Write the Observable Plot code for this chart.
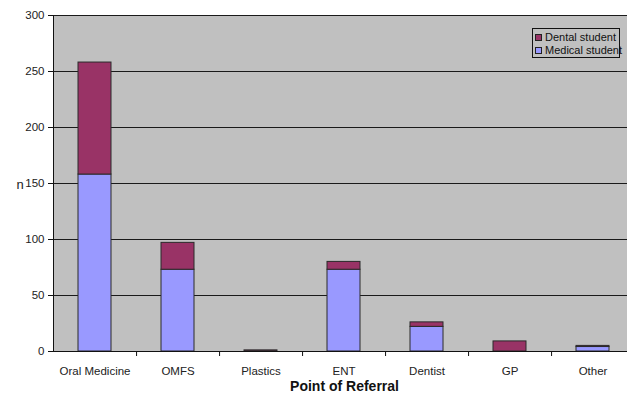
<!DOCTYPE html>
<html>
<head>
<meta charset="utf-8">
<script src="https://cdn.jsdelivr.net/npm/d3@7"></script>
<script src="https://cdn.jsdelivr.net/npm/@observablehq/plot@0.6"></script>
<style>
  body { margin: 0; background: #fff; font-family: "Liberation Sans", Arial, sans-serif; }
  #wrap { position: relative; width: 627px; height: 396px; overflow: hidden; }
  #legend {
    position: absolute; left: 532px; top: 28px; width: 86px; height: 28px;
    border: 1px solid #111; background: #c0c0c0; font-size: 11px; color: #111;
  }
  #legend .row { position: absolute; left: 2px; display: flex; align-items: center; white-space: nowrap; }
  #legend .sw { width: 5px; height: 5px; border: 1px solid #222; margin-right: 3px; }
</style>
</head>
<body>
<div id="wrap"></div>
<script>
// Referrals by source, split by student group
const categories = ["Oral Medicine", "OMFS", "Plastics", "ENT", "Dentist", "GP", "Other"];
const medical = [158, 73, 0, 73, 22, 0, 4];
const dental = [100, 24, 1, 7, 4, 9, 1];
const seriesNames = ["Medical student", "Dental student"];
const seriesColors = ["#9999ff", "#993366"];
const yTicks = [0, 50, 100, 150, 200, 250, 300];

const rows = [];
categories.forEach((c, i) => {
  rows.push({cat: c, series: seriesNames[0], value: medical[i]});
  rows.push({cat: c, series: seriesNames[1], value: dental[i]});
});

const W = 627, H = 396;
const xRange = [53, 635];
const step = (xRange[1] - xRange[0]) / categories.length;

const chart = Plot.plot({
  width: W,
  height: H,
  marginLeft: 53,
  marginRight: 0,
  marginTop: 15,
  marginBottom: 45,
  style: {fontFamily: "Liberation Sans, Arial, sans-serif", fontSize: "11.5px", color: "#222", background: "#fff"},
  x: {type: "band", domain: categories, range: xRange, paddingInner: 0.6, paddingOuter: 0.3, label: null},
  y: {domain: [0, 300], label: null},
  color: {domain: seriesNames, range: seriesColors},
  marks: [
    Plot.frame({fill: "#c0c0c0", stroke: "none"}),
    Plot.ruleY(yTicks.slice(1), {stroke: "#1a1a1a", strokeWidth: 1}),
    Plot.barY(rows, {
      x: "cat", y: "value", fill: "series",
      order: seriesNames,
      stroke: "#2a2a2a", strokeWidth: 1
    }),
    Plot.ruleY([0], {stroke: "#111", strokeWidth: 1}),
    Plot.frame({anchor: "left", stroke: "#111"}),
    Plot.axisY({ticks: yTicks, tickSize: 5, tickPadding: 4, label: null, stroke: "#111", fill: "#222"}),
    // category labels under each bar
    Plot.axisX({tickSize: 0, tickPadding: 15, label: null, fill: "#222"}),
    // tick marks on the category boundaries
    Plot.axisX(categories.slice(0, -1), {tickSize: 5, tickFormat: () => "", label: null, dx: step / 2, stroke: "#111"}),
    Plot.text(["n"], {frameAnchor: "left", dx: -37, dy: 1, textAnchor: "start", fontSize: 13, fill: "#222"}),
    Plot.text(["Point of Referral"], {frameAnchor: "bottom", dx: 4, dy: 39, fontSize: 14, fontWeight: "bold", fill: "#111"})
  ]
});

const wrap = document.getElementById("wrap");
wrap.appendChild(chart);

// legend box, dental listed first
const legend = document.createElement("div");
legend.id = "legend";
[[seriesNames[1], seriesColors[1], 2], [seriesNames[0], seriesColors[0], 15]].forEach(([name, col, top]) => {
  const row = document.createElement("div");
  row.className = "row";
  row.style.top = top + "px";
  const sw = document.createElement("div");
  sw.className = "sw";
  sw.style.background = col;
  row.appendChild(sw);
  row.appendChild(document.createTextNode(name));
  legend.appendChild(row);
});
wrap.appendChild(legend);
</script>
</body>
</html>
